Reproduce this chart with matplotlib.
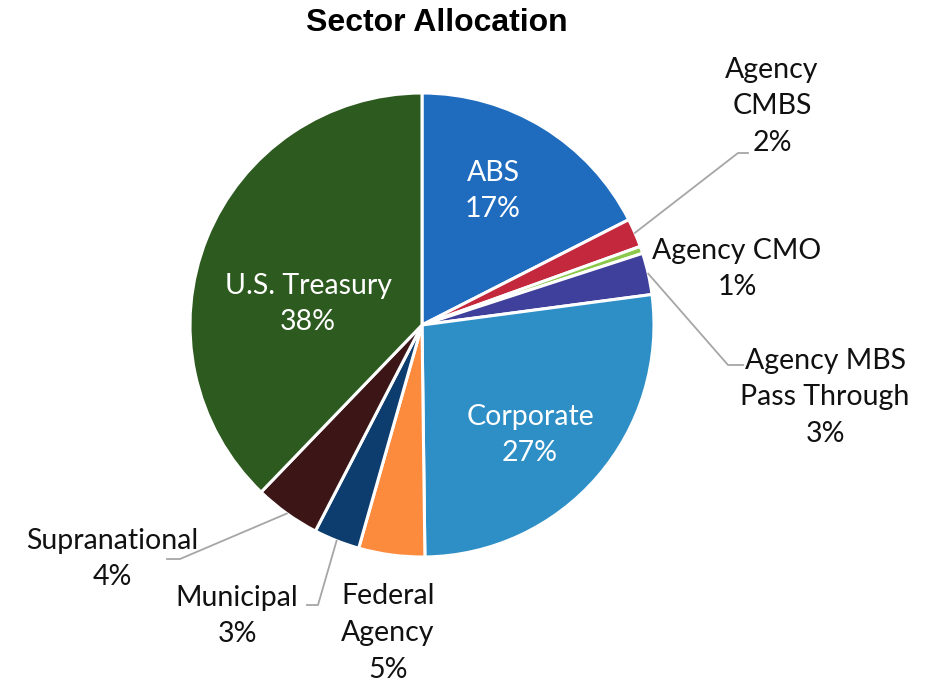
import numpy as np
import matplotlib
matplotlib.use("Agg")
import matplotlib.pyplot as plt

# Sector allocation, clockwise from 12 o'clock
sectors = ["ABS", "Agency\nCMBS", "Agency CMO", "Agency MBS\nPass Through", "Corporate",
           "Federal\nAgency", "Municipal", "Supranational", "U.S. Treasury"]
shares = [17.5, 2.0, 0.5, 2.9, 26.9, 4.6, 3.2, 4.6, 37.8]
pct_labels = ["17%", "2%", "1%", "3%", "27%", "5%", "3%", "4%", "38%"]
colors = ["#1f6cbf", "#c3283c", "#8cc84b", "#3f3f9c", "#2e8fc6",
          "#fd8b3e", "#0d3d6e", "#3c1517", "#2d5a1f"]

W, H = 930, 685
CX, CY, R = 422, 325, 232  # pie centre / radius in pixels (y from top)

plt.rcParams["font.family"] = ["Lato", "DejaVu Sans"]

fig = plt.figure(figsize=(W / 100, H / 100), dpi=100)
ax = fig.add_axes([0, 0, 1, 1])

wedges, _ = ax.pie(shares, colors=colors, startangle=90, counterclock=False,
                   center=(CX, H - CY), radius=R, frame=True,
                   wedgeprops=dict(edgecolor="white", linewidth=2.2))
ax.set_xlim(0, W)
ax.set_ylim(0, H)
ax.set_axis_off()

fig.text(437 / W, 1 - 23 / H, "Sector Allocation", ha="center", va="center",
         fontsize=23, fontweight="bold", family="Liberation Sans")

# label text centres (pixels from top-left), inside labels white
label_pos = {
    0: (493, 191, "white"),
    1: (772, 106, "#111111"),
    2: (737, 269, "#111111"),
    3: (825, 397, "#111111"),
    4: (530, 435, "white"),
    5: (388, 633, "#111111"),
    6: (237, 616, "#111111"),
    7: (112, 559, "#111111"),
    8: (308, 304, "white"),
}
for i, (x, y, c) in label_pos.items():
    ax.text(x, H - y, f"{sectors[i]}\n{pct_labels[i]}", ha="center", va="center",
            fontsize=20.5, color=c, linespacing=1.5)

# leader lines: start at wedge mid-angle on the rim, then elbow points
leaders = {
    1: [(738, 153), (748, 153)],
    3: [(728, 365), (743, 365)],
    7: [(180, 559), (167, 559)],
    6: [(318, 605), (307, 605)],
}
for i, pts in leaders.items():
    w = wedges[i]
    mid = np.deg2rad((w.theta1 + w.theta2) / 2)
    sx = CX + R * np.cos(mid)
    sy = (H - CY) + R * np.sin(mid)
    xs = [sx] + [p[0] for p in pts]
    ys = [sy] + [H - p[1] for p in pts]
    ax.plot(xs, ys, color="#a6a6a6", linewidth=1.3)

fig.savefig("out.png", dpi=100)
